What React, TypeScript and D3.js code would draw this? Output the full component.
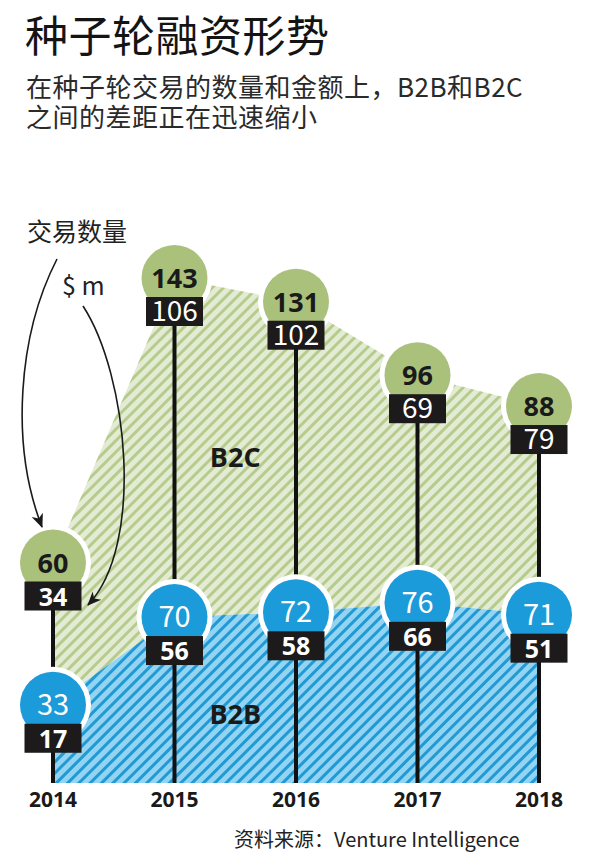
import React from "react";
import * as d3 from "d3";

const years = ["2014", "2015", "2016", "2017", "2018"];
const b2bDeals = [33, 70, 72, 76, 71];
const b2bAmount = [17, 56, 58, 66, 51];
const b2cDeals = [60, 143, 131, 96, 88];
const b2cAmount = [34, 106, 102, 69, 79];

const W = 600;
const H = 858;
const GREEN = "#aac17c";
const BLUE = "#1b9bd9";
const BOX = "#1c1a1a";
const CJK = "'Noto Sans CJK SC', 'Noto Sans', sans-serif";
const NUM = "'Open Sans', 'Noto Sans', sans-serif";

export default function App() {
  const rows = years.map((yr, i) => ({
    year: yr,
    b2b: b2bDeals[i],
    b2c: b2cDeals[i],
    b2bAmt: b2bAmount[i],
    b2cAmt: b2cAmount[i],
    total: b2bDeals[i] + b2cDeals[i],
  }));
  const x = d3.scalePoint<string>().domain(years).range([53, 539]);
  const maxTotal = d3.max(rows, (r) => r.total) as number;
  const y = d3.scaleLinear().domain([0, maxTotal]).range([783, 278]);

  const blueArea = d3
    .area<any>()
    .x((d) => x(d.year) as number)
    .y0(y(0))
    .y1((d) => y(d.b2b));
  const greenArea = d3
    .area<any>()
    .x((d) => x(d.year) as number)
    .y0((d) => y(d.b2b))
    .y1((d) => y(d.total));

  const R = 33;
  const boxW = 57;
  const boxH = 29;
  const boxOff = 19;

  const circleGroup = (
    cx: number,
    cy: number,
    fill: string,
    val: number,
    amt: number,
    circleBold: boolean,
    boxBold: boolean,
    textColor: string,
    key: string
  ) => (
    <g key={key}>
      <circle cx={cx} cy={cy} r={R + 5} fill="#fff" />
      <circle cx={cx} cy={cy} r={R} fill={fill} />
      <text
        x={cx}
        y={cy + 10}
        textAnchor="middle"
        fontFamily={circleBold ? NUM : CJK}
        fontWeight={circleBold ? 700 : 400}
        fontSize={circleBold ? 27 : 29}
        fill={textColor}
      >
        {val}
      </text>
      <rect x={cx - boxW / 2} y={cy + boxOff} width={boxW} height={boxH} fill={BOX} />
      <text
        x={cx}
        y={cy + boxOff + boxH - 5}
        textAnchor="middle"
        fontFamily={boxBold ? NUM : CJK}
        fontWeight={boxBold ? 700 : 400}
        fontSize={boxBold ? 25 : 28}
        fill="#fff"
      >
        {amt}
      </text>
    </g>
  );

  const midB = ((x("2015") as number) + (x("2016") as number)) / 2;

  return (
    <svg
      width={W}
      height={H}
      viewBox={`0 0 ${W} ${H}`}
      style={{ position: "absolute", left: 0, top: 0, background: "#fff" }}
    >
      <defs>
        <pattern id="greenStripe" patternUnits="userSpaceOnUse" width={8} height={8} patternTransform="rotate(45)">
          <rect width={8} height={8} fill="#e4ebd4" />
          <rect width={3} height={8} fill="#b6cc8d" />
        </pattern>
        <pattern id="blueStripe" patternUnits="userSpaceOnUse" width={8} height={8} patternTransform="rotate(45)">
          <rect width={8} height={8} fill="#93d4f2" />
          <rect width={3} height={8} fill="#2199d4" />
        </pattern>
        <marker id="arrow" markerUnits="userSpaceOnUse" markerWidth={16} markerHeight={14} refX={13} refY={7} orient="auto">
          <path d="M0,1 L14,7 L0,13 L4,7 Z" fill="#1a1a1a" />
        </marker>
      </defs>

      {/* Title */}
      <text x={25} y={52} fontFamily={CJK} fontSize={43} fill="#141414" letterSpacing={0.5}>
        种子轮融资形势
      </text>
      <text x={26} y={97} fontFamily={CJK} fontSize={26} fill="#2a2a2a" letterSpacing={0.5}>
        在种子轮交易的数量和金额上，B2B和B2C
      </text>
      <text x={26} y={127} fontFamily={CJK} fontSize={26} fill="#2a2a2a" letterSpacing={0.5}>
        之间的差距正在迅速缩小
      </text>

      {/* Areas */}
      <path d={greenArea(rows) as string} fill="url(#greenStripe)" />
      <path d={blueArea(rows) as string} fill="url(#blueStripe)" />

      {/* Stems */}
      {rows.map((r) => (
        <line
          key={"stem" + r.year}
          x1={x(r.year)}
          x2={x(r.year)}
          y1={y(r.total)}
          y2={y(0)}
          stroke="#111"
          strokeWidth={4}
        />
      ))}

      {/* Series labels */}
      <text x={midB} y={467} textAnchor="middle" fontFamily={NUM} fontWeight={700} fontSize={27} fill="#1a1a1a">
        B2C
      </text>
      <text x={midB} y={724} textAnchor="middle" fontFamily={NUM} fontWeight={700} fontSize={27} fill="#1a1a1a">
        B2B
      </text>

      {/* Circles */}
      {rows.map((r) =>
        circleGroup(x(r.year) as number, y(r.b2b), BLUE, r.b2b, r.b2bAmt, false, true, "#fff", "b" + r.year)
      )}
      {rows.map((r, i) =>
        circleGroup(x(r.year) as number, y(r.total), GREEN, r.b2c, r.b2cAmt, true, i === 0, "#1a1a1a", "g" + r.year)
      )}

      {/* Annotations */}
      <text x={27} y={241} fontFamily={CJK} fontSize={25} fill="#222">
        交易数量
      </text>
      <text x={62} y={295} fontFamily={CJK} fontSize={25} fill="#222">
        $ m
      </text>
      <path d="M57,259 C18,335 10,445 42,527" fill="none" stroke="#1a1a1a" strokeWidth={1.6} markerEnd="url(#arrow)" />
      <path d="M83,306 C128,375 145,545 88,605" fill="none" stroke="#1a1a1a" strokeWidth={1.6} markerEnd="url(#arrow)" />

      {/* Year axis labels */}
      {rows.map((r) => (
        <text
          key={"yr" + r.year}
          x={x(r.year)}
          y={807}
          textAnchor="middle"
          fontFamily={NUM}
          fontWeight={700}
          fontSize={21}
          fill="#1a1a1a"
        >
          {r.year}
        </text>
      ))}

      {/* Source */}
      <text x={234} y={847} fontFamily={CJK} fontSize={20} fill="#222">
        资料来源：Venture Intelligence
      </text>
    </svg>
  );
}
